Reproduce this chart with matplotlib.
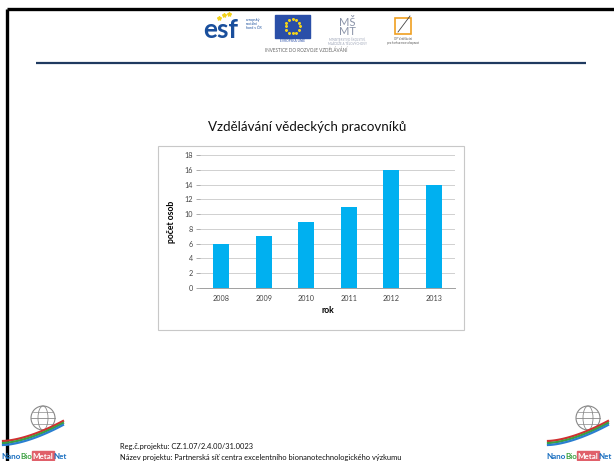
import numpy as np
import matplotlib.pyplot as plt
from matplotlib.patches import Rectangle, Circle, Ellipse

years = ["2008", "2009", "2010", "2011", "2012", "2013"]
persons = [6, 7, 9, 11, 16, 14]
y_ticks = [0, 2, 4, 6, 8, 10, 12, 14, 16, 18]

title = "Vzdělávání vědeckých pracovníků"
footer_1 = "Reg.č.projektu: CZ.1.07/2.4.00/31.0023"
footer_2 = "Název projektu: Partnerská síť centra excelentního bionanotechnologického výzkumu"
logo_parts = [("Nano", "#1a6fc0"), ("Bio", "#3aa040"), ("Metal", "#e0606a"), ("Net", "#1a6fc0")]

plt.rcParams["font.family"] = ["Lato", "DejaVu Sans"]

W, H = 614, 461
fig = plt.figure(figsize=(W / 100, H / 100), dpi=100)

# slide decorations in pixel coordinates
deco = fig.add_axes([0, 0, 1, 1])
deco.set_xlim(0, W)
deco.set_ylim(H, 0)
deco.axis("off")

deco.plot([7, W], [9.5, 9.5], color="black", linewidth=2.4, solid_capstyle="butt")
deco.plot([7, 7], [9, H], color="black", linewidth=2.4, solid_capstyle="butt")
deco.plot([36, 586], [63.5, 63.5], color="#1f3a60", linewidth=1.6, solid_capstyle="butt")

# top logos (rough)
deco.text(203, 38, "esf", color="#1a4f9c", fontsize=19, fontweight="bold", va="baseline")
for sx, sy in [(219, 18), (224, 15), (229, 14)]:
    deco.plot(sx, sy, marker="*", color="#f2d21b", markersize=3)
deco.text(246, 24, "evropský\nsociální\nfond v ČR", color="#1a4f9c", fontsize=2.6, va="center", linespacing=1.1)
deco.add_patch(Rectangle((275, 15), 35, 23, color="#2a4fa8"))
for a in np.linspace(0, 2 * np.pi, 12, endpoint=False):
    deco.plot(292.5 + 7 * np.cos(a), 26.5 + 7 * np.sin(a), marker="*", color="#f2d21b", markersize=1.6)
deco.text(292.5, 41, "EVROPSKÁ UNIE", color="#2a4fa8", fontsize=2.3, ha="center", va="center")
deco.text(347, 27, "MŠ\nMT", color="#8a93a8", fontsize=8, ha="center", va="center", linespacing=0.8)
deco.text(347, 41, "MINISTERSTVO ŠKOLSTVÍ,\nMLÁDEŽE A TĚLOVÝCHOVY", color="#9aa2b5", fontsize=2.2, ha="center", va="center")
deco.add_patch(Rectangle((395, 18), 16, 16, fill=False, edgecolor="#f0a020", linewidth=1.2))
deco.plot([398, 410], [32, 16], color="#444444", linewidth=0.6)
deco.text(403, 41, "OP Vzdělávání\npro konkurenceschopnost", color="#555555", fontsize=2.0, ha="center", va="center")
deco.text(306, 50, "INVESTICE DO ROZVOJE VZDĚLÁVÁNÍ", color="#666666", fontsize=3.3, ha="center", va="center")

# bottom logos (rough)
for cx in [43, 588]:
    deco.add_patch(Circle((cx, 418), 12, fill=False, edgecolor="#888888", linewidth=0.8))
    deco.add_patch(Ellipse((cx, 418), 10, 24, fill=False, edgecolor="#888888", linewidth=0.6))
    deco.plot([cx - 12, cx + 12], [418, 418], color="#888888", linewidth=0.6)
    deco.plot([cx - 10, cx + 10], [412, 412], color="#888888", linewidth=0.5)
    deco.plot([cx - 10, cx + 10], [424, 424], color="#888888", linewidth=0.5)
    t = np.linspace(0, 1, 30)
    for off, col in [(0, "#d03030"), (2, "#3aa040"), (4, "#2a7fd0")]:
        deco.plot(cx - 40 + 60 * t, 443 - 20 * t ** 1.6 + off - 2, color=col, linewidth=1.6)

fig.canvas.draw()
renderer = fig.canvas.get_renderer()
for x0 in [1, 546]:
    xx = x0
    for word, col in logo_parts:
        if word == "Metal":
            txt = deco.text(xx, 458.5, word, color="white", fontsize=5.8, fontweight="bold", va="baseline", zorder=4)
        else:
            txt = deco.text(xx, 458.5, word, color=col, fontsize=5.8, fontweight="bold", va="baseline", zorder=4)
        bb = txt.get_window_extent(renderer)
        w = bb.width * 100 / fig.dpi
        if word == "Metal":
            deco.add_patch(Rectangle((xx - 0.5, 451), w + 1, 9, color=col, zorder=3))
        xx += w + 0.3

deco.text(120, 446, footer_1, fontsize=5.4, va="center", color="#111111")
deco.text(120, 457, footer_2, fontsize=5.4, va="center", color="#111111")
deco.text(307, 127, title, fontsize=9.6, ha="center", va="center", color="#111111")

# chart frame
deco.add_patch(Rectangle((158, 146), 306, 184, fill=False, edgecolor="#c8c8c8", linewidth=0.8))

# the bar chart
ax = fig.add_axes([200 / W, 1 - 288 / H, 255 / W, 133 / H])
x = np.arange(len(years))
ax.bar(x, persons, width=0.38, color="#00b0f0", zorder=3)
ax.set_xlim(-0.5, len(years) - 0.5)
ax.set_ylim(0, 18)
ax.set_yticks(y_ticks)
ax.set_xticks(x)
ax.set_xticklabels(years)
ax.grid(axis="y", color="#d0d0d0", linewidth=0.7, zorder=0)
for side in ["top", "right", "left"]:
    ax.spines[side].set_visible(False)
ax.spines["bottom"].set_color("#a0a0a0")
ax.spines["bottom"].set_linewidth(0.7)
ax.tick_params(axis="y", labelsize=5.2, length=3, width=0.6, color="#a0a0a0", labelcolor="#444444", pad=2)
ax.tick_params(axis="x", labelsize=5.2, length=0, labelcolor="#444444", pad=5)
ax.set_xlabel("rok", fontsize=6.2, fontweight="bold", labelpad=3)
ax.set_ylabel("počet osob", fontsize=6.2, fontweight="bold", labelpad=6)

fig.savefig("out.png", dpi=100)
